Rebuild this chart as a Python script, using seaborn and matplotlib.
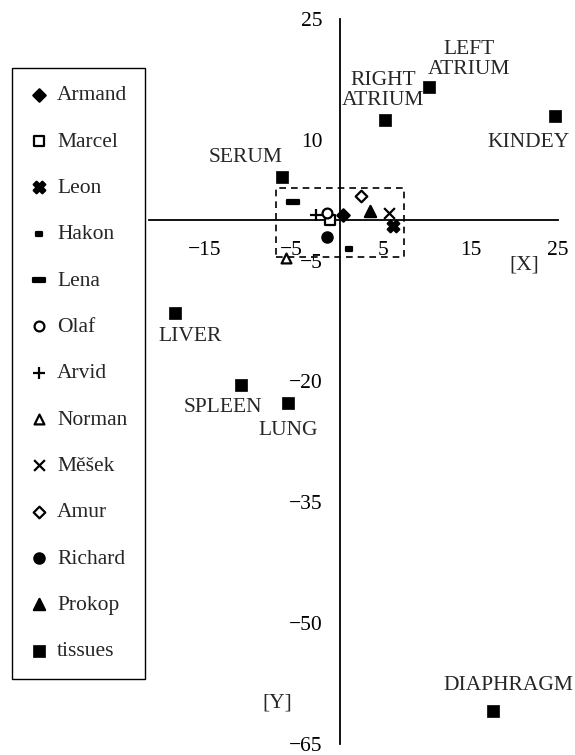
#!/usr/bin/env python3

import matplotlib
matplotlib.use("Agg")
import matplotlib.pyplot as plt
import matplotlib.transforms as mtransforms
from matplotlib.patches import Rectangle
from matplotlib.path import Path
import seaborn as sns

# individuals (x, y)
people = ["Armand", "Marcel", "Leon", "Hakon", "Lena", "Olaf", "Arvid",
          "Norman", "Měšek", "Amur", "Richard", "Prokop"]
people_x = [0.4, -1.2, 6.1, 1.0, -5.4, -1.5, -2.8, -6.2, 5.6, 2.4, -1.5, 3.5]
people_y = [0.7, 0.1, -0.7, -3.5, 2.3, 0.9, 0.7, -4.7, 0.95, 3.0, -2.1, 1.15]

# tissues
tissues = ["SERUM", "RIGHT\nATRIUM", "LEFT\nATRIUM", "KINDEY", "LIVER",
           "SPLEEN", "LUNG", "DIAPHRAGM"]
tissue_x = [-6.7, 5.2, 10.2, 24.7, -19.0, -11.4, -6.0, 17.6]
tissue_y = [5.4, 12.4, 16.5, 13.0, -11.5, -20.4, -22.7, -60.9]

x_ticks = [-15, -5, 5, 15, 25]
y_ticks = [25, 10, -5, -20, -35, -50, -65]

# label offsets in pixels (text centre relative to the point)
label_offsets = [(-36, 19), (-2, 30), (40, 28), (-26, -27), (15, -23),
                 (-18, -23), (0, -27), (15, 25)]

# marker shapes
dash_short = Path([(-1, -0.45), (1, -0.45), (1, 0.45), (-1, 0.45), (-1, -0.45)],
                  closed=True)
dash_long = Path([(-1, -0.3), (1, -0.3), (1, 0.3), (-1, 0.3), (-1, -0.3)],
                 closed=True)
styles = {
    "Armand":  dict(marker="D", s=40, facecolor="black"),
    "Marcel":  dict(marker="s", s=45, facecolor="white"),
    "Leon":    dict(marker="X", s=70, facecolor="black"),
    "Hakon":   dict(marker=dash_short, s=25, facecolor="black"),
    "Lena":    dict(marker=dash_long, s=70, facecolor="black"),
    "Olaf":    dict(marker="o", s=50, facecolor="white"),
    "Arvid":   dict(marker="+", s=70, facecolor="black"),
    "Norman":  dict(marker="^", s=50, facecolor="white"),
    "Měšek":   dict(marker="x", s=60, facecolor="black"),
    "Amur":    dict(marker="D", s=35, facecolor="white"),
    "Richard": dict(marker="o", s=55, facecolor="black"),
    "Prokop":  dict(marker="^", s=65, facecolor="black"),
}

FS = 15.5

sns.set_style("white")
plt.rcParams["font.family"] = ["Liberation Serif", "DejaVu Serif"]

fig = plt.figure(figsize=(5.75, 7.55), dpi=100)
ax = fig.add_axes([0, 0, 1, 1])
ax.patch.set_alpha(0)

for name, px, py in zip(people, people_x, people_y):
    st = styles[name]
    sns.scatterplot(x=[px], y=[py], ax=ax, marker=st["marker"], s=st["s"],
                    facecolor=st["facecolor"], edgecolor="black",
                    linewidth=1.6, color="black", label=name, zorder=5)

sns.scatterplot(x=tissue_x, y=tissue_y, ax=ax, marker="s", s=70,
                color="black", edgecolor="black", linewidth=0.5,
                label="tissues", zorder=5)

for name, tx, ty, off in zip(tissues, tissue_x, tissue_y, label_offsets):
    ax.annotate(name, (tx, ty), xytext=off, textcoords="offset pixels",
                ha="center", va="center", multialignment="center",
                fontsize=FS, linespacing=1.05)

# dashed box around the individuals
ax.add_patch(Rectangle((-7.3, -4.5), 14.7, 8.5, fill=False, ls=(0, (4, 3)),
                       lw=1.2, ec="black", zorder=3))

# axes through origin
px_y = 725 / 90
y0 = 19 + 25 * px_y
ax.set_xlim(-340 / 8.7, 235 / 8.7)
ax.set_ylim(-(755 - y0) / px_y, y0 / px_y)
for side in ["top", "right"]:
    ax.spines[side].set_visible(False)
ax.spines["left"].set_position(("data", 0))
ax.spines["bottom"].set_position(("data", 0))
ax.spines["left"].set_bounds(-65, 25)
ax.spines["bottom"].set_bounds(-22, 25)
for side in ["left", "bottom"]:
    ax.spines[side].set_linewidth(1.3)
    ax.spines[side].set_color("black")
ax.set_xticks(x_ticks)
ax.set_yticks(y_ticks)
ax.tick_params(direction="inout", length=11, width=1.3, labelsize=FS,
               colors="black")
ax.tick_params(axis="x", pad=9.5)
ax.tick_params(axis="y", pad=7)

# negative x labels hang their minus sign to the left
shift = mtransforms.ScaledTranslation(-5 / 100, 0, fig.dpi_scale_trans)
for val, lab in zip(x_ticks, ax.get_xticklabels()):
    if val < 0:
        lab.set_transform(lab.get_transform() + shift)

ax.text(524, 755 - 265, "[X]", transform=None, ha="center", va="center",
        fontsize=FS)
ax.text(277, 755 - 703, "[Y]", transform=None, ha="center", va="center",
        fontsize=FS)

leg = ax.legend(loc="upper left", bbox_to_anchor=(12 / 575, 1 - 68 / 755),
                bbox_transform=fig.transFigure, borderaxespad=0,
                frameon=True, fancybox=False, framealpha=1,
                edgecolor="black", fontsize=FS, labelspacing=1.22,
                borderpad=0.8, handlelength=0.9, handletextpad=0.4)
leg.get_frame().set_linewidth(1.0)
leg.set_zorder(10)

fig.savefig("out.png", dpi=100)
